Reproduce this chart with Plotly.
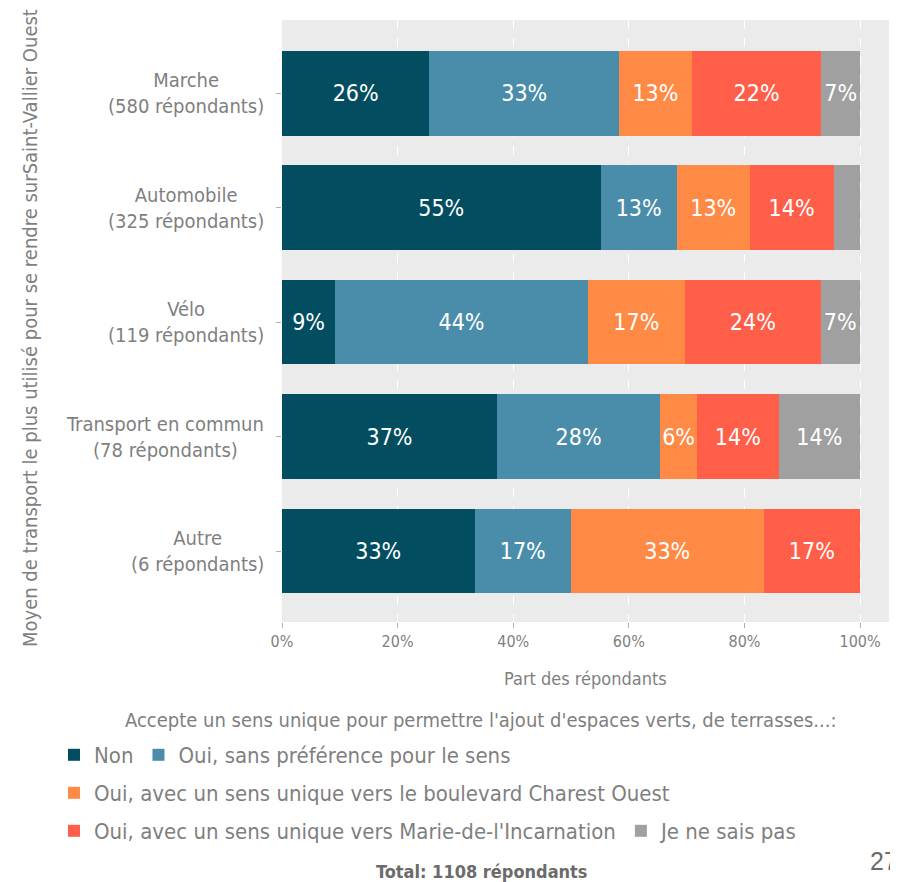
import plotly.graph_objects as go

# ---- data ----
categories = ["Marche", "Automobile", "Vélo", "Transport en commun", "Autre"]
respondents = [580, 325, 119, 78, 6]
series_names = [
    "Non",
    "Oui, sans préférence pour le sens",
    "Oui, avec un sens unique vers le boulevard Charest Ouest",
    "Oui, avec un sens unique vers Marie-de-l'Incarnation",
    "Je ne sais pas",
]
non = [25.5, 55.1, 9.2, 37.2, 33.3]
oui_sans = [32.8, 13.2, 43.7, 28.2, 16.7]
oui_charest = [12.6, 12.6, 16.8, 6.4, 33.3]
oui_marie = [22.4, 14.5, 23.5, 14.1, 16.7]
ne_sais_pas = [6.7, 4.6, 6.7, 14.1, 0.0]
x_tickvals = [0, 20, 40, 60, 80, 100]
x_ticktext = ["0%", "20%", "40%", "60%", "80%", "100%"]

series_values = [non, oui_sans, oui_charest, oui_marie, ne_sais_pas]
colors = ["#024D60", "#4A8DAB", "#FF8A46", "#FF5E48", "#A0A0A0"]
legend_ids = ["legend", "legend", "legend2", "legend3", "legend3"]

FONT = "DejaVu Sans Condensed, DejaVu Sans, sans-serif"
GRAY = "#7F7F7F"

fig = go.Figure()
for name, vals, col, lg in zip(series_names, series_values, colors, legend_ids):
    fig.add_trace(go.Bar(
        y=categories, x=vals, name=name, orientation="h",
        marker=dict(color=col, line=dict(width=0)),
        text=[f"{round(v)}%" if v >= 5 else "" for v in vals],
        textposition="inside", insidetextanchor="middle", textangle=0,
        constraintext="none",
        textfont=dict(color="white", size=23, family=FONT),
        width=0.74, legend=lg, hoverinfo="skip",
    ))

# page is offset by the 8px body margin
OFF = 8
W, H = 898 - OFF, 882 - OFF
PL, PR, PT, PB = 282, 889, 20, 622          # plot area in page pixels
L, R, T, B = PL - OFF, W - (PR - OFF), PT - OFF, H - (PB - OFF)
pw, ph = PR - PL, PB - PT

def px_x(px):
    return (px - PL) / pw

def px_y(py):
    return (PB - py) / ph

annotations = []
for i, (c, n) in enumerate(zip(categories, respondents)):
    annotations.append(dict(
        x=px_x(266), y=c, xref="paper", yref="y", xanchor="right", yanchor="middle",
        text=f"{c}<br>({n} répondants)", showarrow=False, align="center",
        font=dict(size=20, color=GRAY, family=FONT),
    ))
annotations += [
    dict(x=px_x(30), y=px_y(328), xref="paper", yref="paper", textangle=-90,
         text="Moyen de transport le plus utilisé pour se rendre surSaint-Vallier Ouest",
         showarrow=False, xanchor="center", yanchor="middle",
         font=dict(size=20, color=GRAY, family=FONT)),
    dict(x=px_x(481), y=px_y(720), xref="paper", yref="paper",
         text="Accepte un sens unique pour permettre l'ajout d'espaces verts, de terrasses...:",
         showarrow=False, xanchor="center", yanchor="middle",
         font=dict(size=20, color=GRAY, family=FONT)),
    dict(x=px_x(481), y=px_y(871), xref="paper", yref="paper",
         text="<b>Total: 1108 répondants</b>",
         showarrow=False, xanchor="center", yanchor="middle",
         font=dict(size=18, color="#6B6B6B", family=FONT)),
    dict(x=px_x(868), y=px_y(861), xref="paper", yref="paper",
         text="27", showarrow=False, xanchor="left", yanchor="middle",
         font=dict(size=25, color="#6B6B6B", family="Liberation Sans, Arial")),
    dict(x=px_x(585), y=px_y(678), xref="paper", yref="paper",
         text="Part des répondants", showarrow=False, xanchor="center", yanchor="middle",
         font=dict(size=18, color=GRAY, family=FONT)),
]

legend_common = dict(orientation="h", xanchor="left", yanchor="middle", traceorder="normal",
                     bgcolor="rgba(0,0,0,0)", font=dict(size=22, color=GRAY, family=FONT),
                     xref="paper", yref="paper")

fig.update_layout(
    width=W, height=H,
    margin=dict(l=L, r=R, t=T, b=B, pad=0),
    paper_bgcolor="white", plot_bgcolor="#EBEBEB",
    barmode="stack", bargap=0.26,
    font=dict(family=FONT, color=GRAY),
    showlegend=True,
    legend=dict(x=px_x(54), y=px_y(755), **legend_common),
    legend2=dict(x=px_x(54), y=px_y(793), **legend_common),
    legend3=dict(x=px_x(54), y=px_y(831), **legend_common),
    xaxis=dict(range=[0, 105], tickvals=x_tickvals, ticktext=x_ticktext,
               showgrid=True, gridcolor="white", griddash="dash", gridwidth=1,
               zeroline=False, ticks="outside", ticklen=5, tickcolor="#B0B0B0",
               tickfont=dict(size=16, color=GRAY, family=FONT)),
    yaxis=dict(categoryorder="array", categoryarray=categories, range=[4.62, -0.64],
               showticklabels=False, ticks="outside", ticklen=5, tickcolor="#B0B0B0",
               showgrid=False, zeroline=False),
    annotations=annotations,
)

fig.write_html("out.html")
